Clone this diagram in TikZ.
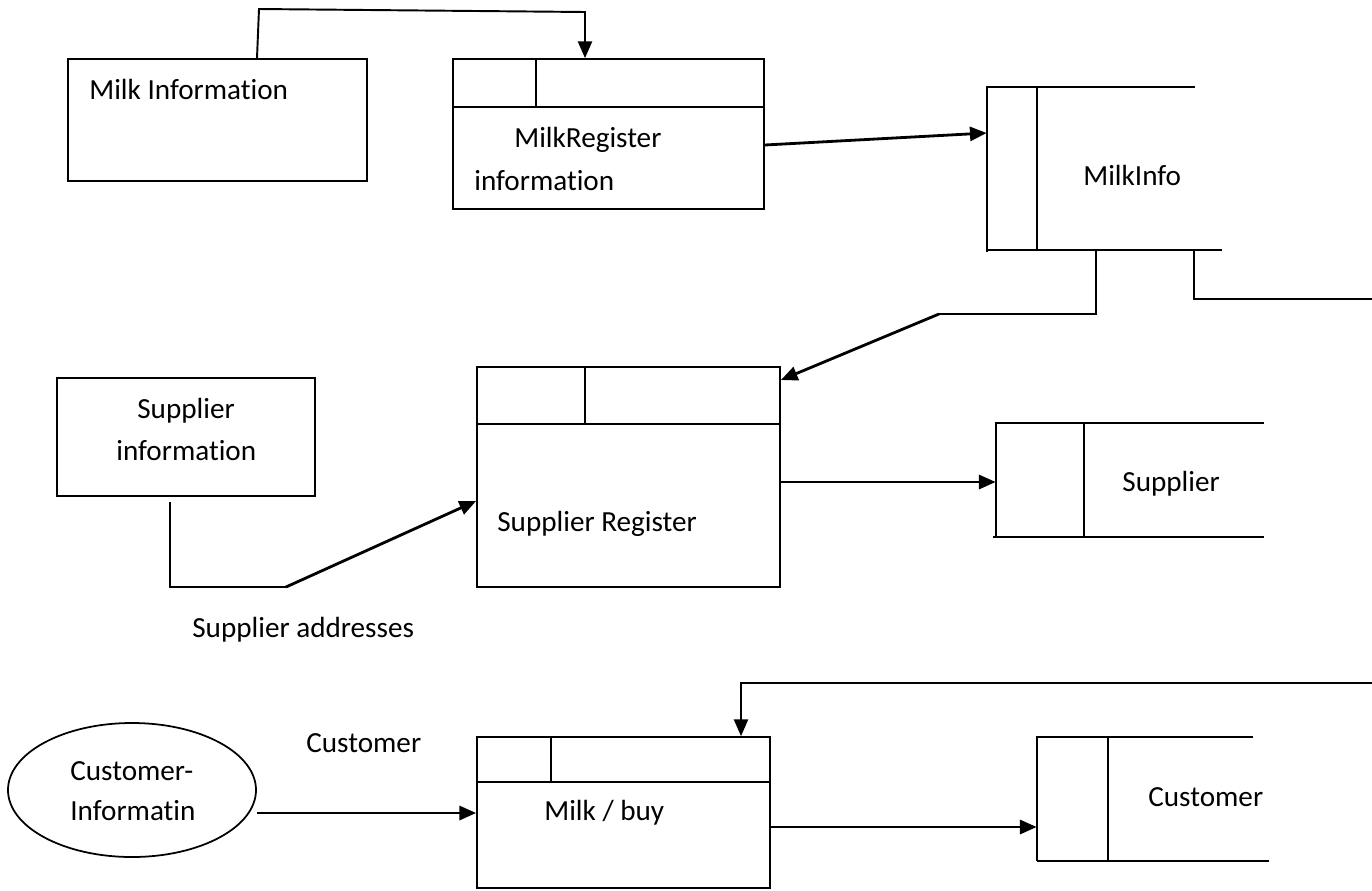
\documentclass[tikz,border=0pt]{standalone}
\usepackage{fontspec}
\setmainfont[Ligatures=NoCommon]{Carlito}
\usetikzlibrary{arrows.meta,fit,shapes.geometric}

\begin{document}
\begin{tikzpicture}[x=0.02cm,y=-0.02cm,
  every node/.style={font=\fontsize{16.6}{20}\selectfont},
  boxline/.style={draw=black,line width=1pt},
  frame/.style={fit=#1,inner sep=0pt,boxline},
  area/.style={fit=#1,inner sep=0pt},
  label/.style={inner sep=0pt,anchor=base west},
  link/.style={draw=black,line width=1.1pt},
  flow/.style={draw=black,line width=1.6pt,-{Triangle[length=9.5pt,width=8pt]}},
  hook/.style={draw=black,line width=1.1pt,-{Triangle[length=9.5pt,width=8pt]}}]

\useasboundingbox (0,0) rectangle (1372,890);

% ---------- external entities ----------
\coordinate (mi1) at (68,59);   \coordinate (mi2) at (367,181);
\node[frame={(mi1)(mi2)}] (milkinfo) {};
\node[label] (tmilkinfo) at (89,99) {Milk Information};

\coordinate (si1) at (57,378);  \coordinate (si2) at (315,496);
\node[frame={(si1)(si2)}] (supinfo) {};
\node[label] (tsup1) at (137,418) {Supplier};
\node[label] (tsup2) at (116,460) {information};

\node[ellipse,boxline,minimum width=248*0.02cm,minimum height=134*0.02cm,inner sep=0pt]
  (custinfo) at (132,790) {};
\node[label] (tcust1) at (70,780) {Customer-};
\node[label] (tcust2) at (70,820) {Informatin};

% ---------- processes ----------
\coordinate (mr1) at (453,59);  \coordinate (mr2) at (764,209);
\node[frame={(mr1)(mr2)}] (mreg) {};
\draw[boxline] (453,107) -- (764,107);
\draw[boxline] (536,59) -- (536,107);
\node[label] (tmreg1) at (514,147) {MilkRegister};
\node[label] (tmreg2) at (474,190) {information};

\coordinate (sr1) at (477,367);  \coordinate (sr2) at (780,587);
\node[frame={(sr1)(sr2)}] (sreg) {};
\draw[boxline] (477,424) -- (780,424);
\draw[boxline] (585,367) -- (585,424);
\node[label] (tsreg) at (497,531) {Supplier Register};

\coordinate (mb1) at (477,737);  \coordinate (mb2) at (770,888);
\node[frame={(mb1)(mb2)}] (mbuy) {};
\draw[boxline] (477,782) -- (770,782);
\draw[boxline] (551,737) -- (551,782);
\node[label] (tmbuy) at (544,820) {Milk / buy};

% ---------- data stores ----------
\coordinate (ds1a) at (987,87);  \coordinate (ds1b) at (1222,250);
\node[area={(ds1a)(ds1b)}] (store1) {};
\draw[boxline] (1195,87) -- (987,87) -- (987,252);
\draw[boxline] (987,250) -- (1222,250);
\draw[boxline] (1037,87) -- (1037,250);
\node[label] (tstore1) at (1083,185) {MilkInfo};

\coordinate (ds2a) at (996,423); \coordinate (ds2b) at (1264,537);
\node[area={(ds2a)(ds2b)}] (store2) {};
\draw[boxline] (1264,423) -- (996,423) -- (996,537);
\draw[boxline] (993,537) -- (1264,537);
\draw[boxline] (1084,423) -- (1084,537);
\node[label] (tstore2) at (1122,491) {Supplier};

\coordinate (ds3a) at (1037,737); \coordinate (ds3b) at (1269,861);
\node[area={(ds3a)(ds3b)}] (store3) {};
\draw[boxline] (1253,737) -- (1037,737) -- (1037,861);
\draw[boxline] (1037,861) -- (1269,861);
\draw[boxline] (1108,737) -- (1108,861);
\node[label] (tstore3) at (1148,806) {Customer};

% ---------- data flows ----------
\draw[hook] (milkinfo.north west -| 257,0) -- (259,9) -- (585,12) -- (mreg.north west -| 585,0);

\draw[flow] (mreg.east |- 0,145) -- (store1.west |- 0,133);

\coordinate (bendA) at (939,314);
\draw[link] (store1.south west -| 1096,0) -- (1096,314) -- (bendA);
\draw[flow] (bendA) -- (sreg.east |- 0,380);

\coordinate (edgeA) at (1372,299);
\draw[link] (store1.south west -| 1194,0) -- (1194,299) -- (edgeA);

\coordinate (bendB) at (286,587);
\draw[link] (supinfo.south west -| 170,0) ++(0,5) -- (170,587) -- (bendB);
\draw[flow] (bendB) -- (sreg.west |- 0,501);
\node[label] (taddr) at (192,637) {Supplier addresses};

\draw[flow] (sreg.east |- 0,482) -- (store2.west |- 0,482);

\node[label] (tcustflow) at (306,752) {Customer};
\draw[flow] (custinfo.east |- 0,813) -- (mbuy.west |- 0,813);

\draw[flow] (mbuy.east |- 0,827) -- (store3.west |- 0,827);

\coordinate (edgeB) at (1372,683);
\draw[hook] (edgeB) -- (741,683) -- (mbuy.north west -| 741,0);

\end{tikzpicture}
\end{document}
